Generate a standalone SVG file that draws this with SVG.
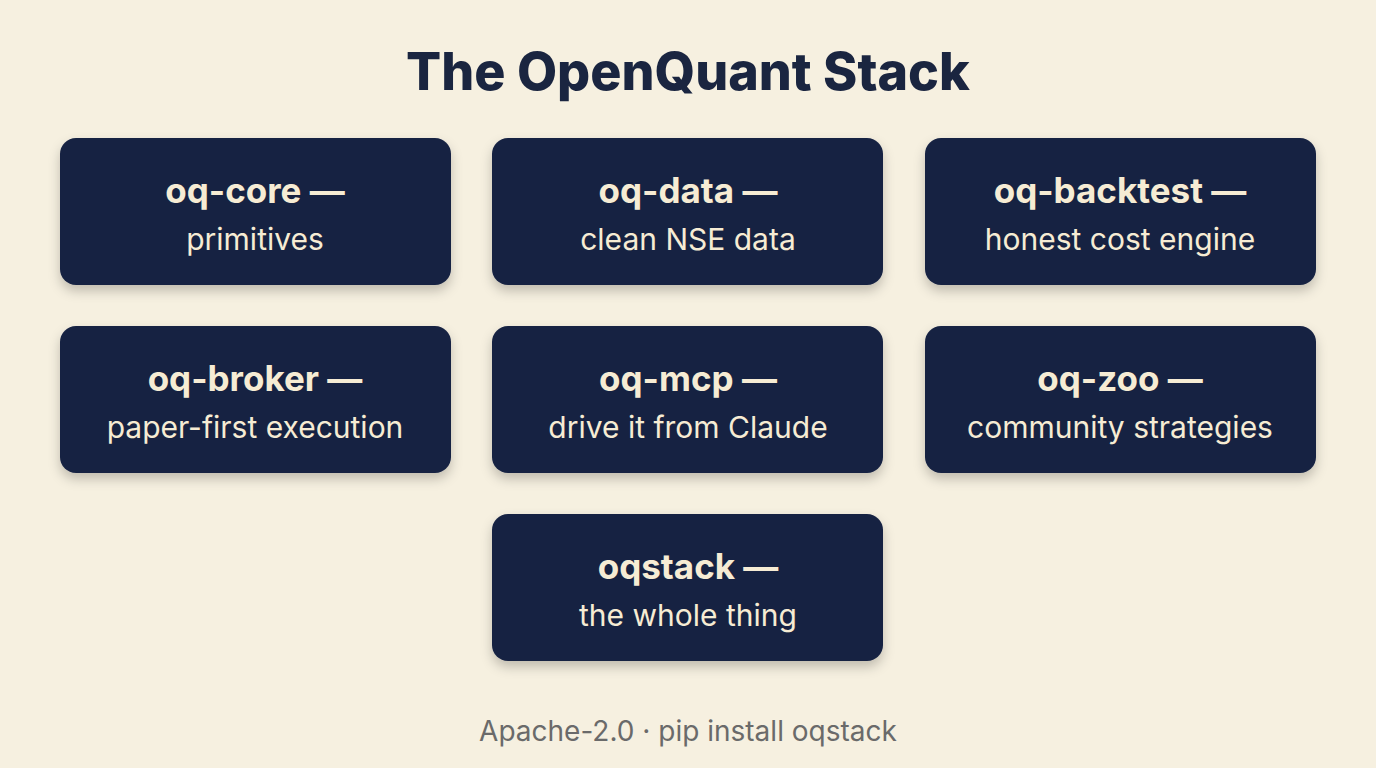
<svg xmlns="http://www.w3.org/2000/svg" width="1376" height="768" viewBox="0 0 1376 768">
<style>
.box{fill:#172443;filter:url(#sh)}
.t1{font-family:Inter,"Liberation Sans",sans-serif;font-weight:700;font-size:35px;fill:#f6ecd4;text-anchor:middle}
.t2{font-family:Inter,"Liberation Sans",sans-serif;font-size:30px;fill:#f6ecd4;text-anchor:middle}
</style>
<defs><filter id="sh" x="-10%" y="-20%" width="120%" height="150%"><feDropShadow dx="0" dy="6" stdDeviation="6" flood-color="#000" flood-opacity="0.22"/></filter></defs>
<rect width="1376" height="768" fill="#f6f0e0"/>
<text x="688" y="90" font-family="Inter,'Liberation Sans',sans-serif" font-weight="800" font-size="52" fill="#1a2540" text-anchor="middle">The OpenQuant Stack</text>
<g id="n1"><rect class="box" x="60" y="138" width="391" height="147" rx="16"/><text class="t1" x="255" y="203">oq-core —</text><text class="t2" x="255" y="250">primitives</text></g>
<g id="n2"><rect class="box" x="492" y="138" width="391" height="147" rx="16"/><text class="t1" x="688" y="203">oq-data —</text><text class="t2" x="688" y="250">clean NSE data</text></g>
<g id="n3"><rect class="box" x="925" y="138" width="391" height="147" rx="16"/><text class="t1" x="1120" y="203">oq-backtest —</text><text class="t2" x="1120" y="250">honest cost engine</text></g>
<g id="n4"><rect class="box" x="60" y="326" width="391" height="147" rx="16"/><text class="t1" x="255" y="391">oq-broker —</text><text class="t2" x="255" y="438">paper-first execution</text></g>
<g id="n5"><rect class="box" x="492" y="326" width="391" height="147" rx="16"/><text class="t1" x="688" y="391">oq-mcp —</text><text class="t2" x="688" y="438">drive it from Claude</text></g>
<g id="n6"><rect class="box" x="925" y="326" width="391" height="147" rx="16"/><text class="t1" x="1120" y="391">oq-zoo —</text><text class="t2" x="1120" y="438">community strategies</text></g>
<g id="n7"><rect class="box" x="492" y="514" width="391" height="147" rx="16"/><text class="t1" x="688" y="579">oqstack —</text><text class="t2" x="688" y="626">the whole thing</text></g>
<g id="connectors"></g>
<text x="688" y="741" font-family="Inter,'Liberation Sans',sans-serif" font-size="28" fill="#6a6a6a" text-anchor="middle">Apache-2.0 · pip  install  oqstack</text>
</svg>
